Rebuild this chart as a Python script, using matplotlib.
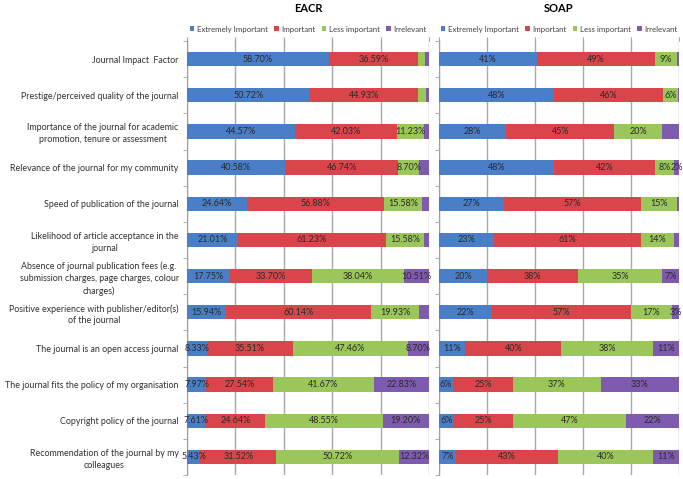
import matplotlib
matplotlib.use("Agg")
import matplotlib.pyplot as plt
import numpy as np

plt.rcParams['font.family'] = ['Lato', 'DejaVu Sans']

categories = [
    "Journal Impact  Factor",
    "Prestige/perceived quality of the journal",
    "Importance of the journal for academic\npromotion, tenure or assessment",
    "Relevance of the journal for my community",
    "Speed of publication of the journal",
    "Likelihood of article acceptance in the\njournal",
    "Absence of journal publication fees (e.g.\nsubmission charges, page charges, colour\ncharges)",
    "Positive experience with publisher/editor(s)\nof the journal",
    "The journal is an open access journal",
    "The journal fits the policy of my organisation",
    "Copyright policy of the journal",
    "Recommendation of the journal by my\ncolleagues",
]
series_names = ["Extremely Important", "Important", "Less important", "Irrelevant"]

eacr_extremely = [58.70, 50.72, 44.57, 40.58, 24.64, 21.01, 17.75, 15.94, 8.33, 7.97, 7.61, 5.43]
eacr_important = [36.59, 44.93, 42.03, 46.74, 56.88, 61.23, 33.70, 60.14, 35.51, 27.54, 24.64, 31.52]
eacr_less = [3.26, 3.26, 11.23, 8.70, 15.58, 15.58, 38.04, 19.93, 47.46, 41.67, 48.55, 50.72]
eacr_irrelevant = [1.45, 1.09, 2.17, 3.98, 2.90, 2.18, 10.51, 3.99, 8.70, 22.83, 19.20, 12.32]

soap_extremely = [41, 48, 28, 48, 27, 23, 20, 22, 11, 6, 6, 7]
soap_important = [49, 46, 45, 42, 57, 61, 38, 57, 40, 25, 25, 43]
soap_less = [9, 6, 20, 8, 15, 14, 35, 17, 38, 37, 47, 40]
soap_irrelevant = [1, 0.6, 7, 2, 1, 2, 7, 3, 11, 33, 22, 11]

# which segments carry a data label (as in the original chart)
eacr_labelled = [
    [1] * 12,
    [1] * 12,
    [0, 0, 1, 1, 1, 1, 1, 1, 1, 1, 1, 1],
    [0, 0, 0, 0, 0, 0, 1, 0, 1, 1, 1, 1],
]
soap_labelled = [
    [1] * 12,
    [1] * 12,
    [1] * 12,
    [0, 0, 0, 1, 0, 0, 1, 1, 1, 1, 1, 1],
]

colors = ["#4A7EC6", "#D9454A", "#9BC65A", "#7E5BAE"]


def draw(ax, data, labelled, fmt, title):
    data = np.array(data, dtype=float)
    totals = data.sum(axis=0)
    norm = data / totals * 100.0
    y = np.arange(len(categories))
    left = np.zeros(len(categories))
    for i, name in enumerate(series_names):
        bars = ax.barh(y, norm[i], left=left, height=0.4, color=colors[i],
                       label=name, zorder=3, linewidth=0)
        for j, b in enumerate(bars):
            if labelled[i][j]:
                ax.text(left[j] + norm[i][j] / 2, y[j], fmt(data[i][j]),
                        ha='center', va='center', fontsize=6.5,
                        color='#2a2a2a', zorder=4)
        left = left + norm[i]
    ax.set_xlim(0, 100)
    ax.set_ylim(len(categories) - 0.5, -0.5)
    ax.set_xticks([0, 20, 40, 60, 80, 100])
    ax.xaxis.tick_top()
    ax.tick_params(axis='x', length=3, color='#A0A0A0', labeltop=False, labelbottom=False)
    ax.grid(axis='x', color='#A8A8A8', linewidth=1.0, zorder=0)
    ax.set_yticks(y)
    ax.set_yticks(np.arange(len(categories) + 1) - 0.5, minor=True)
    ax.tick_params(axis='y', which='major', length=0)
    ax.tick_params(axis='y', which='minor', length=3, color='#A0A0A0')
    for s in ['top', 'right', 'bottom']:
        ax.spines[s].set_visible(False)
    ax.spines['left'].set_color('#A0A0A0')
    ax.legend(loc='lower center', bbox_to_anchor=(0.5, 1.012), ncol=4,
              frameon=False, fontsize=5.7, handlelength=0.55, handleheight=0.55,
              handletextpad=0.3, columnspacing=0.85, borderaxespad=0,
              labelcolor='#404040')
    ax.set_title(title, fontsize=8, fontweight='bold', pad=21)


fig = plt.figure(figsize=(6.83, 4.79), dpi=100)
ax1 = fig.add_axes([187 / 683, 1 - 475 / 479, 242 / 683, 434 / 479])
ax2 = fig.add_axes([439 / 683, 1 - 475 / 479, 240 / 683, 434 / 479])

draw(ax1, [eacr_extremely, eacr_important, eacr_less, eacr_irrelevant], eacr_labelled,
     lambda v: f"{v:.2f}%", "EACR")
draw(ax2, [soap_extremely, soap_important, soap_less, soap_irrelevant], soap_labelled,
     lambda v: f"{v:.0f}%", "SOAP")

ax1.set_yticklabels(categories, fontsize=6.4, color='#303030')
for t in ax1.get_yticklabels():
    t.set_multialignment('center')
    t.set_linespacing(1.4)
ax1.tick_params(axis='y', which='major', pad=6)
ax2.set_yticklabels([])

fig.savefig("out.png", dpi=100)
